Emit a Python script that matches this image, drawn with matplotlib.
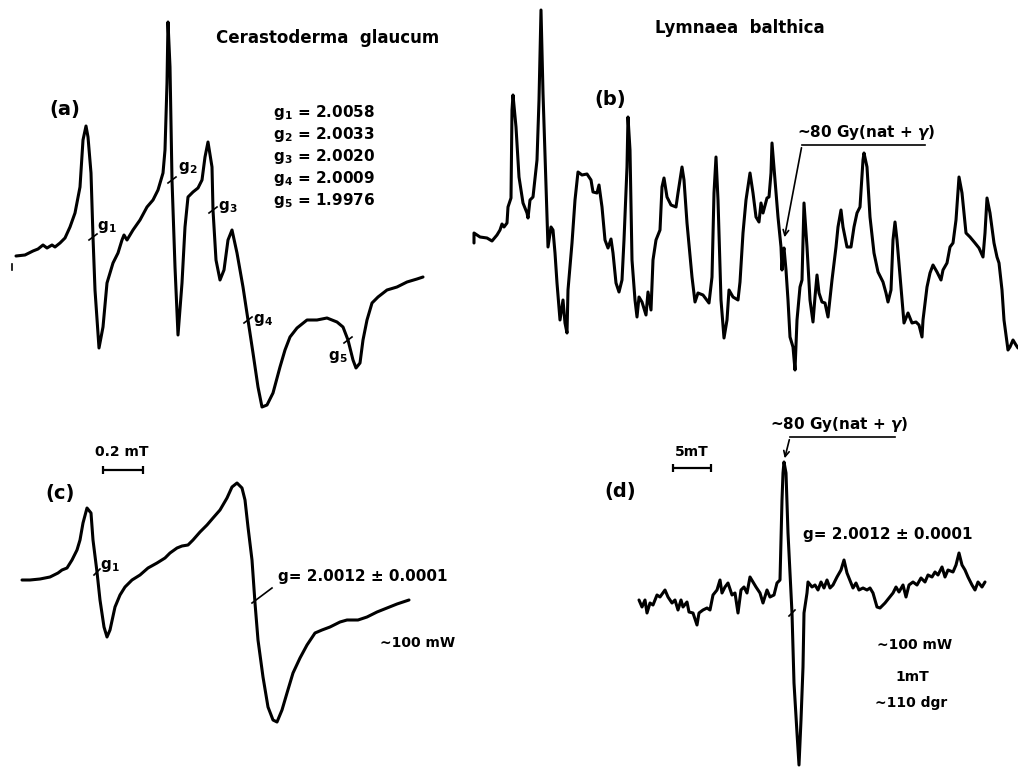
import numpy as np
import matplotlib
matplotlib.use('Agg')
import matplotlib.pyplot as plt

matplotlib.rcParams.update({'font.family': 'DejaVu Sans', 'font.weight': 'bold'})

# ESR traces as (field, signal) pairs, page coordinates
trace_a = [(16, 256), (25, 255), (33, 251), (38, 249), (43, 245), (47, 248), (52, 245), (55, 247),
           (60, 243), (65, 238), (70, 227), (75, 213), (80, 187), (83, 140), (86, 126), (88, 137),
           (91, 173), (93, 237), (95, 290), (99, 348), (103, 327), (107, 283), (113, 263),
           (118, 253), (122, 240), (124, 235), (127, 240), (133, 230), (140, 220), (147, 207),
           (153, 200), (158, 190), (163, 173), (165, 150), (167, 83), (168, 22), (170, 67),
           (172, 180), (175, 267), (178, 335), (182, 283), (185, 227), (188, 197), (193, 192),
           (198, 188), (202, 180), (205, 157), (208, 142), (212, 167), (213, 210), (216, 260),
           (220, 280), (224, 270), (228, 240), (232, 230), (237, 253), (243, 287), (248, 320),
           (253, 353), (258, 387), (262, 407), (267, 405), (273, 393), (280, 367), (285, 350),
           (290, 337), (297, 328), (307, 320), (317, 320), (327, 318), (337, 322), (343, 327),
           (348, 340), (353, 360), (356, 368), (360, 363), (363, 340), (367, 320), (372, 303),
           (378, 297), (387, 290), (397, 287), (407, 282), (417, 279), (423, 277)]

trace_b = [(474, 243), (474, 233), (480, 237), (487, 238), (492, 241), (497, 235), (500, 230),
           (502, 224), (504, 227), (507, 223), (508, 207), (511, 198), (512, 110), (513, 95),
           (516, 127), (519, 177), (523, 203), (527, 213), (528, 218), (530, 200), (533, 197),
           (537, 160), (539, 100), (541, 10), (543, 93), (546, 187), (548, 247), (551, 227),
           (553, 230), (555, 253), (557, 283), (560, 320), (563, 300), (565, 323), (567, 333),
           (568, 290), (572, 243), (575, 200), (578, 172), (582, 175), (587, 174), (591, 180),
           (593, 192), (597, 193), (599, 185), (602, 207), (605, 240), (608, 248), (611, 239),
           (613, 253), (616, 283), (619, 292), (622, 280), (624, 240), (627, 167), (628, 117),
           (630, 150), (632, 260), (635, 300), (637, 317), (639, 297), (642, 302), (646, 315),
           (648, 292), (651, 310), (653, 260), (656, 240), (660, 230), (662, 187), (664, 178),
           (667, 197), (671, 205), (676, 207), (678, 193), (682, 167), (684, 180), (687, 223),
           (692, 277), (695, 302), (698, 293), (703, 295), (709, 303), (712, 277), (714, 193),
           (716, 157), (718, 200), (721, 300), (724, 338), (727, 320), (729, 290), (733, 297),
           (738, 300), (740, 282), (743, 233), (746, 200), (750, 173), (753, 193), (756, 217),
           (759, 222), (761, 203), (763, 213), (767, 198), (769, 197), (771, 173), (772, 143),
           (775, 180), (778, 217), (781, 247), (782, 270), (783, 253), (784, 248), (786, 270),
           (788, 300), (790, 337), (793, 347), (795, 370), (797, 320), (800, 287), (802, 280),
           (804, 203), (807, 247), (810, 300), (813, 322), (815, 297), (817, 275), (819, 293),
           (822, 302), (825, 303), (828, 317), (832, 280), (836, 247), (838, 227), (841, 210),
           (843, 227), (847, 247), (851, 247), (854, 227), (857, 213), (860, 207), (863, 160),
           (864, 153), (867, 167), (870, 217), (874, 253), (878, 272), (883, 282), (886, 293),
           (888, 302), (891, 290), (893, 240), (895, 222), (897, 240), (901, 287), (904, 323),
           (908, 313), (912, 323), (916, 322), (919, 325), (922, 337), (923, 320), (927, 287),
           (930, 273), (933, 265), (937, 272), (941, 280), (943, 270), (947, 263), (950, 247),
           (953, 243), (956, 220), (959, 177), (962, 193), (966, 233), (970, 237), (975, 243),
           (979, 248), (983, 257), (985, 233), (987, 198), (990, 213), (994, 243), (997, 257),
           (999, 263), (1002, 290), (1004, 320), (1008, 350), (1010, 347), (1013, 340),
           (1016, 345), (1018, 348)]

trace_c = [(22, 580), (30, 580), (40, 579), (50, 577), (58, 573), (62, 570), (67, 568), (72, 560),
           (77, 550), (80, 540), (83, 523), (87, 508), (91, 513), (93, 540), (97, 572), (100, 600),
           (104, 627), (107, 637), (110, 630), (115, 607), (120, 595), (125, 587), (132, 580),
           (140, 575), (148, 568), (157, 563), (165, 558), (170, 553), (177, 548), (182, 546),
           (188, 545), (193, 540), (200, 532), (207, 525), (213, 518), (220, 510), (227, 498),
           (232, 487), (237, 483), (242, 488), (245, 500), (248, 527), (252, 560), (255, 603),
           (258, 640), (263, 677), (268, 707), (273, 720), (277, 722), (282, 710), (287, 693),
           (293, 673), (300, 658), (307, 645), (315, 633), (322, 630), (330, 627), (340, 622),
           (347, 620), (358, 620), (367, 617), (377, 612), (387, 608), (397, 604), (403, 602),
           (409, 600)]

trace_d = [(639, 600), (642, 607), (645, 600), (647, 613), (650, 603), (653, 605), (657, 595),
           (660, 597), (665, 590), (668, 597), (672, 603), (675, 600), (678, 610), (681, 600),
           (683, 607), (687, 602), (689, 612), (693, 613), (697, 625), (699, 613), (703, 610),
           (707, 608), (710, 610), (713, 595), (717, 590), (720, 580), (722, 593), (725, 587),
           (728, 583), (732, 595), (735, 593), (738, 613), (741, 590), (744, 587), (747, 593),
           (750, 577), (753, 582), (756, 587), (760, 593), (763, 603), (767, 590), (770, 597),
           (774, 595), (777, 583), (780, 580), (782, 500), (783, 473), (784, 462), (786, 473),
           (788, 533), (792, 613), (794, 683), (797, 733), (799, 765), (801, 720), (803, 667),
           (804, 613), (807, 593), (808, 582), (812, 587), (815, 585), (818, 590), (821, 582),
           (824, 588), (827, 580), (830, 588), (833, 585), (837, 577), (841, 570), (844, 560),
           (847, 573), (851, 583), (853, 588), (856, 583), (859, 590), (863, 588), (867, 590),
           (870, 588), (873, 593), (877, 607), (880, 608), (885, 603), (889, 598), (893, 593),
           (896, 587), (899, 592), (903, 585), (906, 597), (909, 585), (913, 582), (917, 585),
           (921, 578), (925, 582), (928, 575), (932, 577), (935, 572), (938, 575), (942, 567),
           (945, 577), (948, 570), (953, 572), (956, 565), (959, 553), (962, 565), (965, 570),
           (968, 577), (972, 585), (975, 590), (978, 582), (982, 587), (985, 582)]

# g-value marks on panel (a)
a_g_marks = [(93, 237), (172, 180), (213, 210), (248, 320), (348, 340)]
a_g_labels = ['g$_1$', 'g$_2$', 'g$_3$', 'g$_4$', 'g$_5$']
a_g_label_pos = [(107, 227), (188, 168), (228, 207), (263, 320), (338, 357)]
g_values = ['g$_1$ = 2.0058', 'g$_2$ = 2.0033', 'g$_3$ = 2.0020', 'g$_4$ = 2.0009', 'g$_5$ = 1.9976']

fig = plt.figure(figsize=(10.18, 7.68), dpi=100)
ax = fig.add_axes([0, 0, 1, 1])
ax.set_xlim(0, 1018)
ax.set_ylim(768, 0)
ax.axis('off')

lw = 2.2
for trace in [trace_a, trace_b, trace_c, trace_d]:
    fx, sy = np.array(trace).T
    ax.plot(fx, sy, color='black', lw=lw, solid_joinstyle='round', solid_capstyle='round')

fs = 12
# panel (a)
ax.text(328, 38, 'Cerastoderma  glaucum', fontsize=fs, ha='center', va='center')
ax.text(65, 110, '(a)', fontsize=fs + 2, ha='center', va='center')
for (x, y), lab, (lx, ly) in zip(a_g_marks, a_g_labels, a_g_label_pos):
    ax.plot([x - 4, x + 4], [y + 3, y - 3], color='black', lw=1.2)
    ax.text(lx, ly, lab, fontsize=fs - 1, ha='center', va='center')
for i, s in enumerate(g_values):
    ax.text(273, 113 + 22 * i, s, fontsize=fs - 1, ha='left', va='center')
ax.plot([12, 12], [264, 270], color='black', lw=1.2)

# panel (b)
ax.text(740, 28, 'Lymnaea  balthica', fontsize=fs, ha='center', va='center')
ax.text(610, 100, '(b)', fontsize=fs + 2, ha='center', va='center')
ax.text(797, 132, '~80 Gy(nat + $\\gamma$)', fontsize=fs - 1, ha='left', va='center')
ax.plot([802, 925], [145, 145], color='black', lw=1.2)
ax.annotate('', xy=(784, 240), xytext=(802, 145),
            arrowprops=dict(arrowstyle='->', color='black', lw=1.2))

# panel (c)
ax.text(60, 493, '(c)', fontsize=fs + 2, ha='center', va='center')
ax.text(122, 452, '0.2 mT', fontsize=fs - 2, ha='center', va='center')
ax.errorbar([123], [470], xerr=[20], color='black', lw=1.6, capsize=3, capthick=1.6)
ax.plot([94, 100], [575, 569], color='black', lw=1.2)
ax.text(110, 566, 'g$_1$', fontsize=fs - 1, ha='center', va='center')
ax.plot([252, 272], [603, 588], color='black', lw=1.2)
ax.text(278, 577, 'g= 2.0012 ± 0.0001', fontsize=fs - 1, ha='left', va='center')
ax.text(380, 643, '~100 mW', fontsize=fs - 2, ha='left', va='center')

# panel (d)
ax.text(620, 492, '(d)', fontsize=fs + 2, ha='center', va='center')
ax.text(692, 452, '5mT', fontsize=fs - 2, ha='center', va='center')
ax.errorbar([692], [468], xerr=[19], color='black', lw=1.6, capsize=3, capthick=1.6)
ax.text(770, 425, '~80 Gy(nat + $\\gamma$)', fontsize=fs - 1, ha='left', va='center')
ax.plot([790, 895], [437, 437], color='black', lw=1.2)
ax.annotate('', xy=(784, 461), xytext=(790, 437),
            arrowprops=dict(arrowstyle='->', color='black', lw=1.2))
ax.plot([789, 795], [616, 610], color='black', lw=1.2)
ax.text(803, 535, 'g= 2.0012 ± 0.0001', fontsize=fs - 1, ha='left', va='center')
ax.text(877, 645, '~100 mW', fontsize=fs - 2, ha='left', va='center')
ax.text(912, 677, '1mT', fontsize=fs - 2, ha='center', va='center')
ax.text(875, 703, '~110 dgr', fontsize=fs - 2, ha='left', va='center')

fig.savefig('out.png', dpi=100, facecolor='white')
